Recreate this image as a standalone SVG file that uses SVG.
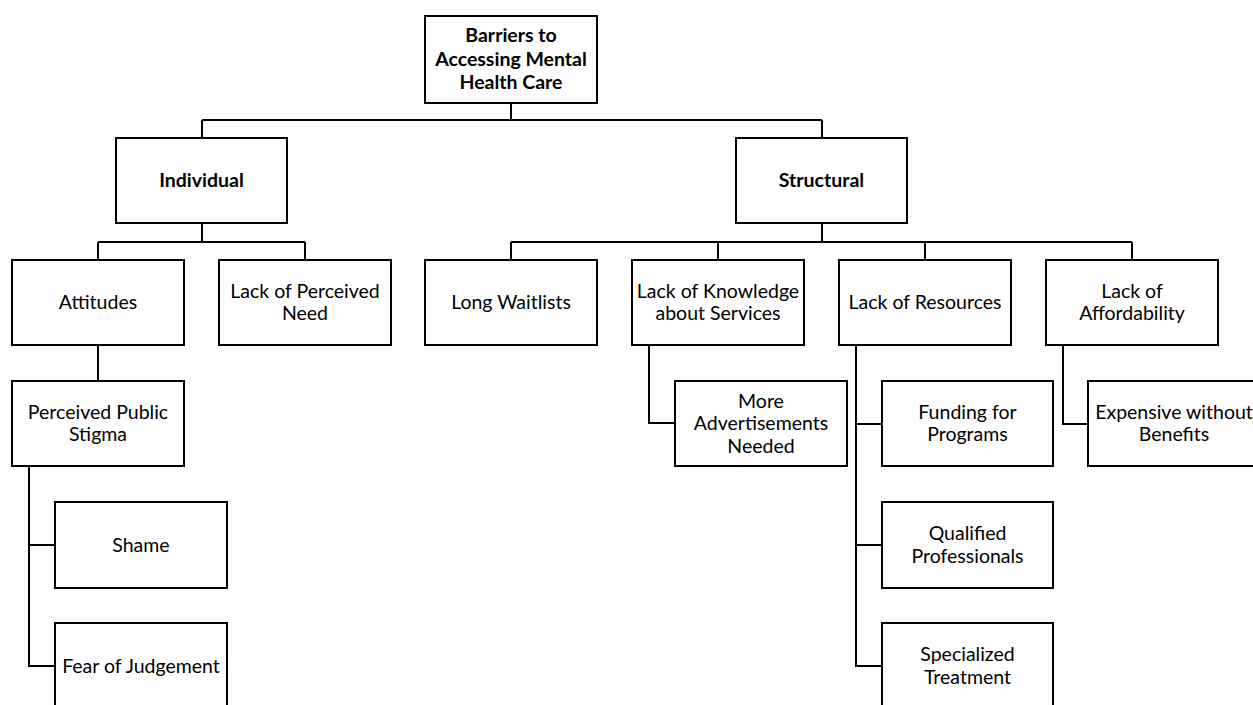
<svg xmlns="http://www.w3.org/2000/svg" width="1253" height="705" viewBox="0 0 1253 705">
<style>
.box{fill:#fff;stroke:#000;stroke-width:2}
.lnk{fill:none;stroke:#000;stroke-width:2}
text{font-family:Lato,"Open Sans","Liberation Sans",sans-serif;font-size:19.5px;fill:#000;text-anchor:middle}
.b{font-weight:bold}
</style>
<rect width="1253" height="705" fill="#fff"/>
<g id="connectors" class="lnk">
<path d="M511,103V120M202,120H822M202,120V138M822,120V138"/>
<path d="M202,223V242M98,242H305M98,242V260M305,242V260"/>
<path d="M822,223V242M511,242H1132M511,242V260M718,242V260M925,242V260M1132,242V260"/>
<path d="M98,345V381"/>
<path d="M29,466V666H55M29,545H55"/>
<path d="M649,345V423H675"/>
<path d="M856,345V666H882M856,424H882M856,545H882"/>
<path d="M1063,345V424H1088"/>
</g>
<g id="root"><rect class="box" x="425" y="16" width="172" height="87"/>
<text class="b" x="511" y="42">Barriers to</text><text class="b" x="511" y="66">Accessing Mental</text><text class="b" x="511" y="89">Health Care</text></g>
<g id="individual"><rect class="box" x="116" y="138" width="171" height="85"/><text class="b" x="201.5" y="187">Individual</text></g>
<g id="structural"><rect class="box" x="736" y="138" width="171" height="85"/><text class="b" x="821.5" y="187">Structural</text></g>
<g id="attitudes"><rect class="box" x="12" y="260" width="172" height="85"/><text x="98" y="309">Attitudes</text></g>
<g id="lack-perceived-need"><rect class="box" x="219" y="260" width="172" height="85"/><text x="305" y="297.5">Lack of Perceived</text><text x="305" y="320">Need</text></g>
<g id="long-waitlists"><rect class="box" x="425" y="260" width="172" height="85"/><text x="511" y="309">Long Waitlists</text></g>
<g id="lack-knowledge"><rect class="box" x="632" y="260" width="172" height="85"/><text x="718" y="297.5">Lack of Knowledge</text><text x="718" y="320">about Services</text></g>
<g id="lack-resources"><rect class="box" x="839" y="260" width="172" height="85"/><text x="925" y="309">Lack of Resources</text></g>
<g id="lack-affordability"><rect class="box" x="1046" y="260" width="172" height="85"/><text x="1132" y="297.5">Lack of</text><text x="1132" y="320">Affordability</text></g>
<g id="perceived-public-stigma"><rect class="box" x="12" y="381" width="172" height="85"/><text x="98" y="418.5">Perceived Public</text><text x="98" y="441">Stigma</text></g>
<g id="more-advertisements"><rect class="box" x="675" y="381" width="172" height="85"/><text x="761" y="407.5">More</text><text x="761" y="430">Advertisements</text><text x="761" y="452.5">Needed</text></g>
<g id="funding"><rect class="box" x="882" y="381" width="171" height="85"/><text x="967.5" y="418.5">Funding for</text><text x="967.5" y="441">Programs</text></g>
<g id="expensive"><rect class="box" x="1088" y="381" width="172" height="85"/><text x="1174" y="418.5">Expensive without</text><text x="1174" y="441">Benefits</text></g>
<g id="shame"><rect class="box" x="55" y="502" width="172" height="86"/><text x="141" y="551.5">Shame</text></g>
<g id="fear"><rect class="box" x="55" y="623" width="172" height="86"/><text x="141" y="672.5">Fear of Judgement</text></g>
<g id="qualified"><rect class="box" x="882" y="502" width="171" height="86"/><text x="967.5" y="540">Qualified</text><text x="967.5" y="562.5">Professionals</text></g>
<g id="specialized"><rect class="box" x="882" y="623" width="171" height="86"/><text x="967.5" y="661">Specialized</text><text x="967.5" y="683.5">Treatment</text></g>
</svg>
